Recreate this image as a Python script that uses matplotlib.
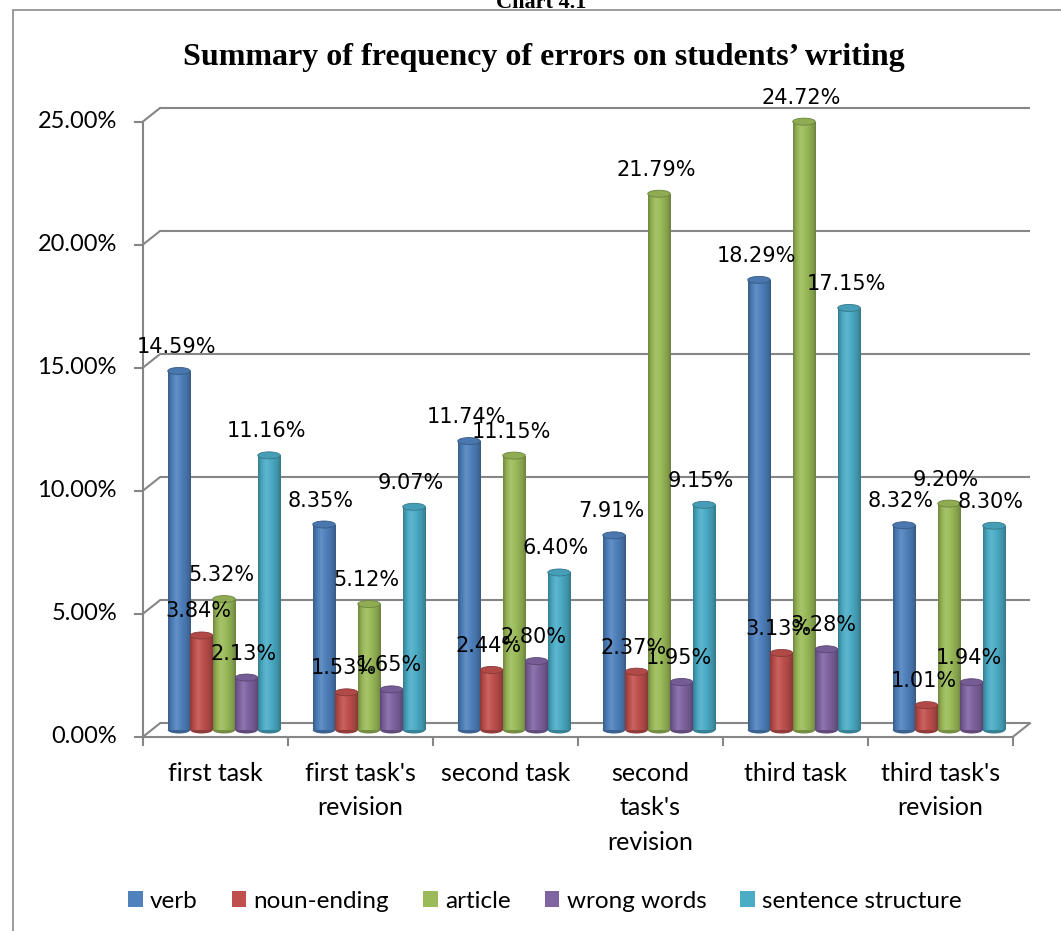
import numpy as np
import matplotlib
matplotlib.use("Agg")
import matplotlib.pyplot as plt
from matplotlib.patches import Ellipse, Patch, Rectangle
from matplotlib.colors import to_rgb

categories = ["first task", "first task's\nrevision", "second task",
              "second\ntask's\nrevision", "third task", "third task's\nrevision"]
series_names = ["verb", "noun-ending", "article", "wrong words", "sentence structure"]
verb = [14.59, 8.35, 11.74, 7.91, 18.29, 8.32]
noun_ending = [3.84, 1.53, 2.44, 2.37, 3.13, 1.01]
article = [5.32, 5.12, 11.15, 21.79, 24.72, 9.20]
wrong_words = [2.13, 1.65, 2.80, 1.95, 3.28, 1.94]
sentence_structure = [11.16, 9.07, 6.40, 9.15, 17.15, 8.30]
series_values = [verb, noun_ending, article, wrong_words, sentence_structure]
colors = ["#4F81BD", "#C0504D", "#9BBB59", "#8064A2", "#4BACC6"]
y_ticks = [0, 5, 10, 15, 20, 25]

W, H = 1061, 931
fig = plt.figure(figsize=(W / 100, H / 100), dpi=100)
fig.patch.set_facecolor("white")

# chart border (partly off-canvas)
fig.add_artist(Rectangle((12.5 / W, -0.1), 1.2, 1 - 10 / H + 0.1, transform=fig.transFigure,
                         fill=False, edgecolor="#8a8a8a", lw=1.2))
fig.text(541 / W, 1 - 8 / H, "Chart 4.1", ha="center", va="baseline",
         family="Liberation Serif", weight="bold", fontsize=16)
fig.text(544 / W, 1 - 58 / H, "Summary of frequency of errors on students\u2019 writing",
         ha="center", va="center", family="Liberation Serif", weight="bold", fontsize=23)

ax = fig.add_axes([151.5 / W, 1 - 730 / H, 870 / W, (730 - 114.75) / H])
ax.set_xlim(-0.5, 5.5)
ax.set_ylim(0, 25)
ax.axis("off")

PXX = 145.0   # pixels per category
PXY = 24.6    # pixels per percent
DX = 8.5 / PXX
DY = 6.75 / PXY
grid_c = "#868686"
glw = 1.5

# back wall gridlines + left diagonals + left front axis
for g in y_ticks:
    ax.plot([-0.5 + DX, 5.5 + DX], [g + DY, g + DY], color=grid_c, lw=glw, clip_on=False, zorder=1,
            solid_capstyle="butt")
    ax.plot([-0.5 - DX, -0.5 + DX], [g - DY, g + DY], color=grid_c, lw=glw, clip_on=False, zorder=1)
    ax.plot([-0.5 - DX - 8 / PXX, -0.5 - DX], [g - DY, g - DY], color=grid_c, lw=glw, clip_on=False,
            zorder=1)
    ax.text(-0.5 - DX - 26 / PXX, g - DY, f"{g:.2f}%", ha="right", va="center",
            family="Lato", fontsize=17)
ax.plot([-0.5 - DX, -0.5 - DX], [-DY, 25 - DY], color=grid_c, lw=glw, clip_on=False, zorder=1)
# floor
ax.plot([-0.5 - DX, 5.5 - DX], [-DY, -DY], color=grid_c, lw=glw, clip_on=False, zorder=1)
ax.plot([5.5 - DX, 5.5 + DX], [-DY, DY], color=grid_c, lw=glw, clip_on=False, zorder=1)
for i in range(7):
    ax.plot([i - 0.5 - DX, i - 0.5 - DX], [-DY, -DY - 8 / PXY], color=grid_c, lw=glw,
            clip_on=False, zorder=1)

# category labels
for i, c in enumerate(categories):
    ax.text(i - DX, -DY - (762 - 737) / PXY, c, ha="center", va="top", family="Lato",
            fontsize=18, linespacing=1.6)


def shade(c, f):
    r = np.array(to_rgb(c))
    if f >= 1:
        return tuple(r + (1 - r) * (f - 1))
    return tuple(r * f)


tpos = np.linspace(0, 1, 64)
prof = np.interp(tpos, [0, 0.12, 0.35, 0.6, 0.85, 1.0], [0.72, 0.9, 1.12, 0.98, 0.85, 0.7])

bw = 22.5 / PXX
x = np.arange(len(categories))
cap_h = 7.0 / PXY
for s, (vals, col) in enumerate(zip(series_values, colors)):
    xs = x + (s - 2) * bw
    bars = ax.bar(xs, vals, width=bw, color=col, zorder=3, linewidth=0)
    grad = np.array([shade(col, f) for f in prof])[None, :, :]
    for b, xv, v in zip(bars, xs, vals):
        # bottom cap
        ax.add_patch(Ellipse((xv, 0), bw, cap_h, facecolor=shade(col, 0.75), edgecolor="none",
                             zorder=2.9, clip_on=False))
        im = ax.imshow(grad, extent=[xv - bw / 2, xv + bw / 2, 0, v], aspect="auto",
                       zorder=3.1, interpolation="bilinear")
        im.set_clip_path(b)
        ax.add_patch(Ellipse((xv, v), bw, cap_h, facecolor=shade(col, 0.92),
                             edgecolor=shade(col, 0.7), lw=0.6, zorder=3.2, clip_on=False))
        ax.annotate(f"{v:.2f}%", (xv, v), xytext=(-3, 24), textcoords="offset pixels",
                    ha="center", va="center", family="DejaVu Sans", fontsize=15, zorder=5)

ax.set_xlim(-0.5, 5.5)
ax.set_ylim(0, 25)

handles = [Patch(facecolor=c, edgecolor="none") for c in colors]
fig.legend(handles, series_names, loc="center", bbox_to_anchor=(545 / W, 1 - 901 / H),
           ncol=5, frameon=False, prop={"family": "Lato", "size": 17.5},
           handlelength=0.6, handleheight=0.65, handletextpad=0.3, columnspacing=1.4)

fig.savefig("out.png", dpi=100)
